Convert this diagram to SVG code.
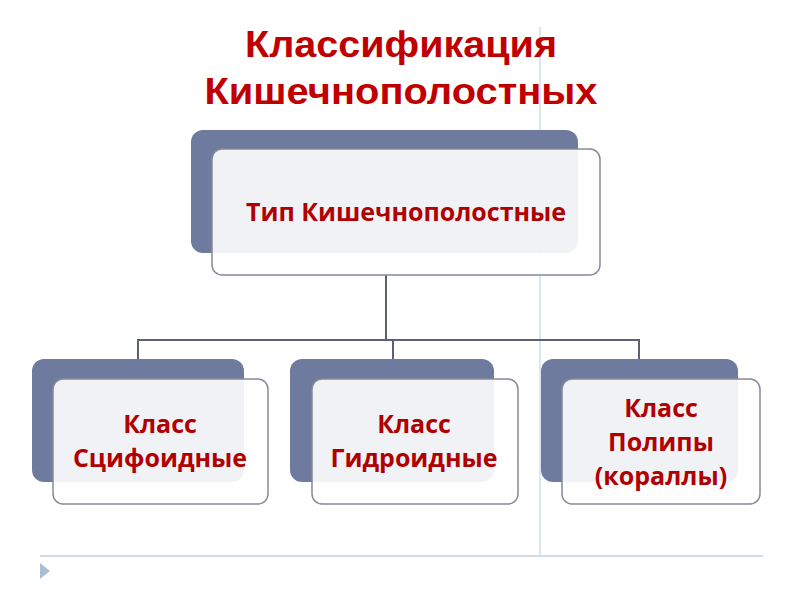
<svg xmlns="http://www.w3.org/2000/svg" width="800" height="600" viewBox="0 0 800 600">
<style>
.title{font-family:"Liberation Sans",Arial,sans-serif;font-weight:bold;font-size:36px;fill:#C00000;text-anchor:middle}
.lbl{font-family:"Open Sans","Liberation Sans",sans-serif;font-weight:bold;font-size:25px;fill:#B00000;text-anchor:middle}
.back{fill:#6F7A9F}
.front{fill:#FFFFFF;fill-opacity:0.9;stroke:#858B97;stroke-width:1.5}
.conn{fill:none;stroke:#5C6272;stroke-width:2}
</style>
<rect width="800" height="600" fill="#FFFFFF"/>
<line x1="540" y1="27" x2="540" y2="556" stroke="#BCCBDD" stroke-width="1"/>
<line x1="40" y1="556" x2="763" y2="556" stroke="#D3DDE6" stroke-width="2"/>
<polygon points="40,563 50,571 40,579" fill="#A9BDD5"/>
<text class="title" x="401" y="57" textLength="312" lengthAdjust="spacingAndGlyphs">Классификация</text>
<text class="title" x="401" y="104" textLength="393" lengthAdjust="spacingAndGlyphs">Кишечнополостных</text>
<g id="connectors">
<path class="conn" d="M386,275 V340 M138,359 V340 H639 V359 M393,340 V359"/>
</g>
<g id="node-type">
<rect class="back" x="191" y="130" width="387" height="123" rx="12"/>
<rect class="front" x="212" y="149" width="388" height="126" rx="10"/>
<text class="lbl" x="406" y="221">Тип Кишечнополостные</text>
</g>
<g id="node-scyph">
<rect class="back" x="32" y="359" width="212" height="123" rx="12"/>
<rect class="front" x="53" y="379" width="215" height="125" rx="10"/>
<text class="lbl" x="160" y="433">Класс</text>
<text class="lbl" x="160" y="467">Сцифоидные</text>
</g>
<g id="node-hydro">
<rect class="back" x="290" y="359" width="204" height="123" rx="12"/>
<rect class="front" x="312" y="379" width="206" height="125" rx="10"/>
<text class="lbl" x="414" y="433">Класс</text>
<text class="lbl" x="414" y="467">Гидроидные</text>
</g>
<g id="node-polyp">
<rect class="back" x="541" y="359" width="197" height="123" rx="12"/>
<rect class="front" x="562" y="379" width="198" height="125" rx="10"/>
<text class="lbl" x="661" y="417">Класс</text>
<text class="lbl" x="661" y="451">Полипы</text>
<text class="lbl" x="661" y="485">(кораллы)</text>
</g>
</svg>
